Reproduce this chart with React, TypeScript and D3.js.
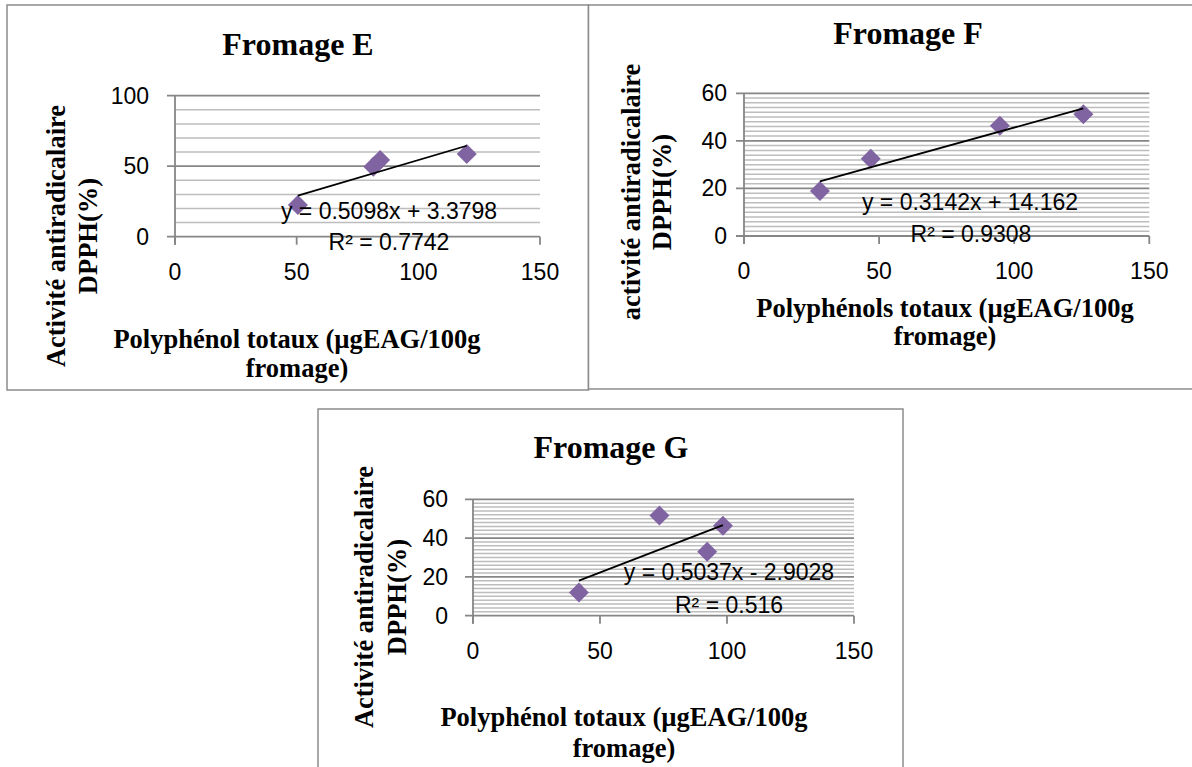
import React from 'react';
import * as d3 from 'd3';

// ---------- data ----------
const xTicks = [0, 50, 100, 150];
const eYTicks = [0, 50, 100];
const fYTicks = [0, 20, 40, 60];
const gYTicks = [0, 20, 40, 60];

const eX = [50.5, 81.5, 84.3, 119.9];
const eY = [22.5, 49.6, 54.4, 58.7];
const fX = [28.1, 46.9, 94.7, 125.6];
const fY = [18.9, 32.5, 46.4, 51.2];
const gX = [41.7, 73.4, 92.2, 98.4];
const gY = [11.9, 51.6, 33.0, 46.4];

const trendE = [0.5098, 3.3798];
const trendF = [0.3142, 14.162];
const trendG = [0.5037, -2.9028];

const titles = ['Fromage E', 'Fromage F', 'Fromage G'];
const eqLabels = ['y = 0.5098x + 3.3798', 'y = 0.3142x + 14.162', 'y = 0.5037x - 2.9028'];
const r2Labels = ['R² = 0.7742', 'R² = 0.9308', 'R² = 0.516'];
const yTitles = [
  ['Activité antiradicalaire', 'DPPH(%)'],
  ['activité antiradicalaire', 'DPPH(%)'],
  ['Activité antiradicalaire', 'DPPH(%)'],
];
const xTitles = [
  ['Polyphénol totaux (µgEAG/100g', 'fromage)'],
  ['Polyphénols totaux (µgEAG/100g', 'fromage)'],
  ['Polyphénol totaux (µgEAG/100g', 'fromage)'],
];

const SANS = "'Liberation Sans', Arial, sans-serif";
const SERIF = "'Liberation Serif', 'Times New Roman', serif";
const PURPLE = '#8064A2';

type Cfg = {
  box: [number, number, number, number];
  left: number; right: number; top: number; bottom: number;
  yMax: number; yMinor: number; yTicks: number[];
  xs: number[]; ys: number[]; trend: number[];
  idx: number;
  titleX: number; titleY: number;
  yLabGap: number;
  yT1: number; yT2: number; yTC: number;
  xTX: number; xT1: number; xT2: number;
  eqX: number; eqY: number; r2X: number; r2Y: number;
};

function Panel({ c }: { c: Cfg }) {
  const x = d3.scaleLinear().domain([0, 150]).range([c.left, c.right]);
  const y = d3.scaleLinear().domain([0, c.yMax]).range([c.bottom, c.top]);
  const minor = d3.range(0, c.yMax + 1e-9, c.yMinor).filter((v) => !c.yTicks.includes(v));
  const [xmin, xmax] = d3.extent(c.xs) as [number, number];
  const [m, b] = c.trend;
  const trendPath = d3.line()([
    [x(xmin), y(m * xmin + b)],
    [x(xmax), y(m * xmax + b)],
  ]) as string;
  const sq = d3.symbol(d3.symbolSquare, 200)() as string;
  const [bx0, by0, bx1, by1] = c.box;
  return (
    <g>
      <rect x={bx0} y={by0} width={bx1 - bx0} height={by1 - by0} fill="#fff" stroke="#8c8c8c" strokeWidth={1.5} />
      <text x={c.titleX} y={c.titleY} textAnchor="middle" fontFamily={SERIF} fontWeight="bold" fontSize={32}>
        {titles[c.idx]}
      </text>
      {minor.map((v) => (
        <line key={'m' + v} x1={c.left} x2={c.right} y1={y(v)} y2={y(v)} stroke="#bdbdbd" strokeWidth={1.5} />
      ))}
      {c.yTicks.map((v) => (
        <line key={'M' + v} x1={c.left - 8} x2={c.right} y1={y(v)} y2={y(v)} stroke="#868686" strokeWidth={1.8} />
      ))}
      <line x1={c.left} x2={c.left} y1={c.top} y2={c.bottom + 8} stroke="#868686" strokeWidth={1.8} />
      {xTicks.map((v) => (
        <line key={'xt' + v} x1={x(v)} x2={x(v)} y1={c.bottom} y2={c.bottom + 8} stroke="#868686" strokeWidth={1.8} />
      ))}
      {c.yTicks.map((v) => (
        <text key={'yl' + v} x={c.left - c.yLabGap} y={y(v) + 8} textAnchor="end" fontFamily={SANS} fontSize={23} fill="#000">
          {v}
        </text>
      ))}
      {xTicks.map((v) => (
        <text key={'xl' + v} x={x(v)} y={c.bottom + 43} textAnchor="middle" fontFamily={SANS} fontSize={23} fill="#000">
          {v}
        </text>
      ))}
      {c.xs.map((v, i) => (
        <path key={'p' + i} d={sq} transform={`translate(${x(v)},${y(c.ys[i])}) rotate(45)`} fill={PURPLE} />
      ))}
      <path d={trendPath} stroke="#000" strokeWidth={1.8} fill="none" />
      <text x={c.eqX} y={c.eqY} textAnchor="middle" dy="0.36em" fontFamily={SANS} fontSize={23} fill="#000">
        {eqLabels[c.idx]}
      </text>
      <text x={c.r2X} y={c.r2Y} textAnchor="middle" dy="0.36em" fontFamily={SANS} fontSize={23} fill="#000">
        {r2Labels[c.idx]}
      </text>
      <g fontFamily={SERIF} fontWeight="bold" fontSize={26.5} textAnchor="middle">
        <text transform={`translate(${c.yT1},${c.yTC}) rotate(-90)`} dy="0.32em">{yTitles[c.idx][0]}</text>
        <text transform={`translate(${c.yT2},${c.yTC}) rotate(-90)`} dy="0.32em">{yTitles[c.idx][1]}</text>
        <text x={c.xTX} y={c.xT1}>{xTitles[c.idx][0]}</text>
        <text x={c.xTX} y={c.xT2}>{xTitles[c.idx][1]}</text>
      </g>
    </g>
  );
}

const panels: Cfg[] = [
  {
    idx: 0, box: [7, 5, 588.5, 390],
    left: 175, right: 540, top: 95.7, bottom: 236.7,
    yMax: 100, yMinor: 10, yTicks: eYTicks, xs: eX, ys: eY, trend: trendE,
    titleX: 298, titleY: 55, yLabGap: 26,
    yT1: 57, yT2: 89, yTC: 236,
    xTX: 297, xT1: 348, xT2: 377,
    eqX: 389, eqY: 211, r2X: 389, r2Y: 242,
  },
  {
    idx: 1, box: [588.5, 5, 1230, 389],
    left: 744, right: 1149.3, top: 93.3, bottom: 236,
    yMax: 60, yMinor: 2, yTicks: fYTicks, xs: fX, ys: fY, trend: trendF,
    titleX: 908, titleY: 44, yLabGap: 17,
    yT1: 632, yT2: 663, yTC: 192,
    xTX: 945, xT1: 317, xT2: 345,
    eqX: 970, eqY: 202, r2X: 971, r2Y: 234,
  },
  {
    idx: 2, box: [318, 409, 903, 800],
    left: 473, right: 854, top: 499.3, bottom: 615.7,
    yMax: 60, yMinor: 2, yTicks: gYTicks, xs: gX, ys: gY, trend: trendG,
    titleX: 611, titleY: 458, yLabGap: 25,
    yT1: 365, yT2: 398, yTC: 597,
    xTX: 624, xT1: 726, xT2: 757,
    eqX: 729, eqY: 572, r2X: 729, r2Y: 605,
  },
];

export default function App() {
  return (
    <svg width={1192} height={767} style={{ position: 'absolute', left: 0, top: 0, background: '#fff' }}>
      <rect x={0} y={0} width={1192} height={767} fill="#fff" />
      {panels.map((c) => (
        <Panel key={c.idx} c={c} />
      ))}
    </svg>
  );
}
